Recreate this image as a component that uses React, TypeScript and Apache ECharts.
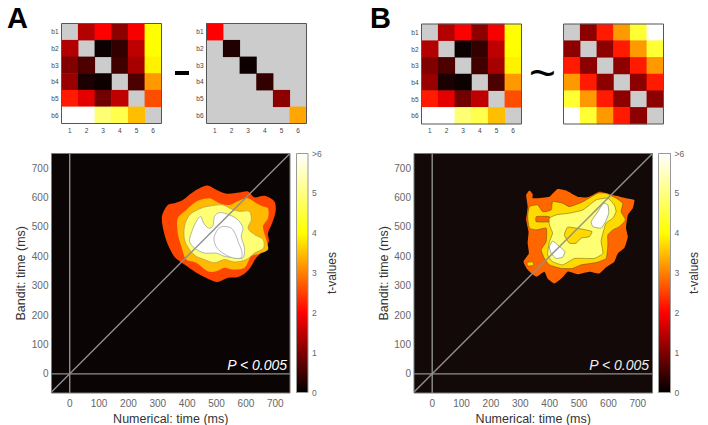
import React, { useEffect, useRef } from "react";
import * as echarts from "echarts";

const bandLabels = ["b1", "b2", "b3", "b4", "b5", "b6"];
const modelLabels = ["1", "2", "3", "4", "5", "6"];
const timeTicks = [0, 100, 200, 300, 400, 500, 600, 700];
const barTicks = [0, 1, 2, 3, 4, 5, 6];

// t-values per cell; null is a grey (excluded) cell
const neuralRdm = [
  [null, 1.4, 2.0, 1.1, 1.95, 4.0],
  [1.4, null, 0.1, 0.4, 1.5, 4.0],
  [1.0, 0.6, null, 0.5, 1.3, 3.9],
  [1.2, 0.2, 0.1, null, 0.6, 3.2],
  [2.2, 1.8, 0.9, 1.5, null, 2.6],
  [6, 6, 4.9, 4.6, 3.5, null],
];
const diagonalModel = [
  [2.0, null, null, null, null, null],
  [null, 0.25, null, null, null, null],
  [null, null, 0.1, null, null, null],
  [null, null, null, 0.4, null, null],
  [null, null, null, null, 1.1, null],
  [null, null, null, null, null, 3.3],
];
const distanceModel = [
  [null, 1.1, 2.2, 3.2, 4.4, 6],
  [1.1, null, 1.1, 2.2, 3.2, 4.4],
  [2.2, 1.1, null, 1.1, 2.2, 3.2],
  [3.2, 2.2, 1.1, null, 1.1, 2.2],
  [4.4, 3.2, 2.2, 1.1, null, 1.1],
  [6, 4.4, 3.2, 2.2, 1.1, null],
];

// contour outlines: [numerical ms, bandit ms]
const aLevel25 = [[470,641],[504,624],[535,613],[578,617],[607,621],[629,601],[663,606],[697,587],[701,553],[689,513],[675,479],[678,451],[663,423],[635,395],[618,366],[599,344],[573,330],[539,327],[504,313],[470,324],[431,344],[391,372],[357,398],[334,440],[320,485],[314,536],[334,575],[357,581],[385,592],[414,615],[442,632]];
const aLevel34 = [[476,598],[510,581],[544,575],[578,590],[607,598],[635,581],[658,570],[675,564],[675,530],[658,502],[669,457],[675,423],[646,409],[618,400],[595,361],[555,355],[527,361],[499,349],[470,349],[431,378],[397,389],[380,434],[368,479],[368,530],[397,558],[431,587]];
const aLevel49 = [[482,572],[521,575],[550,561],[578,553],[612,553],[618,524],[607,496],[629,474],[658,457],[660,428],[629,411],[601,389],[561,381],[527,389],[493,378],[459,389],[431,400],[408,423],[391,457],[391,502],[408,541],[448,564]];
const aLevel6 = [[510,549],[544,541],[573,524],[590,496],[584,468],[595,428],[590,395],[561,395],[527,400],[499,411],[459,411],[425,428],[408,451],[414,479],[431,519],[446,536],[456,513],[473,496],[487,502],[493,536]];
const aLevel7 = [[521,502],[550,496],[565,474],[573,451],[586,417],[584,395],[555,395],[521,411],[499,432],[491,462],[504,491]];

const bLevel25 = [[331,624],[342,612],[342,598],[399,603],[427,629],[456,624],[495,603],[530,601],[569,620],[615,609],[660,598],[688,592],[683,564],[666,541],[660,496],[666,467],[654,428],[632,410],[620,382],[592,363],[569,342],[535,348],[495,339],[461,348],[444,329],[416,308],[393,325],[382,348],[354,331],[325,354],[311,382],[329,410],[325,445],[328,484],[320,524],[325,569],[320,609]];
const bLevel36 = [[410,586],[444,581],[467,569],[513,586],[564,615],[592,615],[626,598],[649,581],[643,552],[658,524],[637,501],[615,490],[598,473],[598,439],[592,393],[558,379],[507,371],[478,359],[439,359],[399,371],[382,393],[371,422],[388,450],[388,496],[354,490],[331,496],[325,535],[331,569],[359,575],[376,552],[405,558]];
const bHole25 = [[354,535],[399,535],[401,518],[354,518]];
const bIsland36 = [[323,379],[342,381],[346,370],[325,367]];
const bLevel49 = [[422,541],[467,547],[513,558],[558,592],[598,598],[620,575],[626,552],[615,530],[592,513],[581,479],[575,450],[581,410],[552,393],[518,393],[484,393],[444,371],[410,382],[393,405],[399,450],[410,479],[399,507],[399,530]];
const bInner36 = [[461,499],[490,496],[524,490],[544,484],[535,467],[507,462],[490,445],[467,445],[450,473]];
const bPeak1 = [[583,581],[598,575],[601,547],[590,518],[575,496],[547,501],[541,518],[564,552]];
const bPeak2 = [[410,452],[427,439],[452,416],[444,397],[422,393],[405,410],[399,433]];

const X_MIN = -62, X_MAX = 750, Y_MIN = -65, Y_MAX = 750;
const crossV = [[0, Y_MIN], [0, Y_MAX]];
const crossH = [[X_MIN, 0], [X_MAX, 0]];
const crossD = [[X_MIN, X_MIN], [X_MAX, X_MAX]];

const FONT = "Liberation Sans";
const TICK = "#666";
const EDGE = "#7a7a7a";
const HOT_STOPS = ["#000000", "#ff0000", "#ffff00", "#ffffff"];

function hot(t: number): string {
  const v = Math.max(0, Math.min(6, t)) / 6;
  const r = Math.min(1, v * 3);
  const g = Math.max(0, Math.min(1, v * 3 - 1));
  const b = Math.max(0, Math.min(1, v * 3 - 2));
  return `rgb(${Math.round(r * 255)},${Math.round(g * 255)},${Math.round(b * 255)})`;
}

const matrixGrids = [
  { left: 61.5, top: 23.5 },
  { left: 206.5, top: 23.5 },
  { left: 421.5, top: 24 },
  { left: 563.5, top: 24 },
];
const matrices = [neuralRdm, diagonalModel, neuralRdm, distanceModel];

function matrixSeries(m: (number | null)[][], idx: number) {
  const data: number[][] = [];
  m.forEach((row, r) =>
    row.forEach((v, c) => {
      if (v !== null) data.push([c, r, v]);
    })
  );
  return {
    type: "heatmap", xAxisIndex: idx, yAxisIndex: idx, data, silent: true,
    itemStyle: { borderWidth: 0 },
  };
}

function contour(points: number[][], level: number, xi: number, stroke: string, lw: number, z: number, smooth = 0.3) {
  return {
    type: "custom", xAxisIndex: xi, yAxisIndex: xi, silent: true, z,
    data: points, encode: { x: 0, y: 1 }, clip: true,
    renderItem: (params: any, api: any) => {
      if (params.dataIndex !== 0) return { type: "group", children: [] };
      return {
        type: "polygon",
        shape: { points: points.map((p) => api.coord(p)), smooth },
        style: { fill: hot(level), stroke, lineWidth: lw },
      };
    },
  };
}

function guide(data: number[][], xi: number) {
  return {
    type: "line", xAxisIndex: xi, yAxisIndex: xi, data, symbol: "none", silent: true, z: 20,
    lineStyle: { color: "#8f8f8f", width: 1.4 },
  };
}

function colorbarSeries(xi: number) {
  return {
    type: "bar", xAxisIndex: xi, yAxisIndex: xi, data: [6], barWidth: "100%", silent: true,
    itemStyle: {
      color: {
        type: "linear", x: 0, y: 1, x2: 0, y2: 0,
        colorStops: HOT_STOPS.map((color, i) => ({ offset: i / 3, color })),
      },
    },
  };
}

const bigGrids = [
  { left: 51.5, top: 153.5, width: 238.5, height: 239.5, backgroundColor: "#0a0404" },
  { left: 414, top: 153.5, width: 238.5, height: 239.5, backgroundColor: "#120908" },
];
const barGrids = [
  { left: 296.5, top: 153.5, width: 11.5, height: 239 },
  { left: 658.5, top: 153.5, width: 12, height: 239 },
];

function frame(x: number, y: number, w: number, h: number, color: string, lw = 1) {
  return { type: "rect", silent: true, z: 50, shape: { x, y, width: w, height: h }, style: { fill: "none", stroke: color, lineWidth: lw } };
}

export default function App() {
  const ref = useRef<HTMLDivElement>(null);
  useEffect(() => {
    document.body.style.margin = "0";
    const chart = echarts.init(ref.current!, null, { renderer: "svg" });
    const grid: any[] = [];
    const xAxis: any[] = [];
    const yAxis: any[] = [];

    matrixGrids.forEach((g, i) => {
      grid.push({ left: g.left, top: g.top, width: 100, height: 100, show: true, backgroundColor: "#cccccc", borderWidth: 0, outerBoundsMode: "none" });
      const labelled = i !== 3;
      xAxis.push({
        type: "category", gridIndex: i, data: modelLabels,
        axisLine: { show: false }, axisTick: { show: false }, splitLine: { show: false },
        axisLabel: { show: labelled, fontSize: 6.5, color: "#444", margin: 3, fontFamily: FONT },
      });
      yAxis.push({
        type: "category", gridIndex: i, data: bandLabels, inverse: true,
        axisLine: { show: false }, axisTick: { show: false }, splitLine: { show: false },
        axisLabel: { show: labelled, fontSize: 6.5, color: "#444", margin: 3, fontFamily: FONT },
      });
    });

    const addBig = (g: any, gi: number) => {
      grid.push({ ...g, show: true, borderWidth: 0, outerBoundsMode: "none" });
      xAxis.push({
        type: "value", gridIndex: gi, min: X_MIN, max: X_MAX,
        name: "Numerical: time (ms)", nameLocation: "middle", nameGap: 16,
        nameTextStyle: { fontSize: 12.5, color: "#333", fontFamily: FONT },
        axisLine: { show: false }, axisTick: { show: false }, splitLine: { show: false },
        axisLabel: { fontSize: 10, color: TICK, margin: 5, fontFamily: FONT, customValues: timeTicks, hideOverlap: false },
      });
      yAxis.push({
        type: "value", gridIndex: gi, min: Y_MIN, max: Y_MAX,
        name: "Bandit: time (ms)", nameLocation: "middle", nameGap: 20.5,
        nameTextStyle: { fontSize: 12.5, color: "#333", fontFamily: FONT },
        axisLine: { show: false }, axisTick: { show: false }, splitLine: { show: false },
        axisLabel: { fontSize: 10, color: TICK, margin: 3, fontFamily: FONT, customValues: timeTicks, hideOverlap: false },
      });
    };
    const addBar = (g: any, gi: number) => {
      grid.push({ ...g, outerBoundsMode: "none" });
      xAxis.push({ type: "category", gridIndex: gi, data: ["t"], show: false });
      yAxis.push({
        type: "value", gridIndex: gi, min: barTicks[0], max: barTicks[barTicks.length - 1], interval: 1, position: "right",
        name: "t-values", nameLocation: "middle", nameGap: 17, nameRotate: 90,
        nameTextStyle: { fontSize: 12, color: "#333", fontFamily: FONT },
        axisLine: { show: false }, splitLine: { show: false },
        axisTick: { show: true, inside: true, length: 2, lineStyle: { color: "#999" } },
        axisLabel: { fontSize: 8.5, color: TICK, margin: 4, fontFamily: FONT, formatter: (v: number) => (v === 6 ? ">6" : String(v)) },
      });
    };
    addBig(bigGrids[0], 4);
    addBar(barGrids[0], 5);
    addBig(bigGrids[1], 6);
    addBar(barGrids[1], 7);

    const series: any[] = [
      ...matrices.map((m, i) => matrixSeries(m, i)),
      contour(aLevel25, 2.55, 4, "none", 0, 5),
      contour(aLevel34, 3.45, 4, "none", 0, 6),
      contour(aLevel49, 4.9, 4, "#a09a60", 0.6, 7),
      contour(aLevel6, 6, 4, "#999999", 0.7, 8),
      contour(aLevel7, 6, 4, "#999999", 0.7, 9),
      guide(crossV, 4), guide(crossH, 4), guide(crossD, 4),
      colorbarSeries(5),
      contour(bLevel25, 2.8, 6, "none", 0, 5, 0.15),
      contour(bLevel36, 3.7, 6, "#5a4a10", 0.5, 6, 0.15),
      contour(bHole25, 2.8, 6, "#5a4a10", 0.5, 7, 0.15),
      contour(bIsland36, 3.7, 6, "#5a4a10", 0.5, 7, 0.15),
      contour(bLevel49, 4.9, 6, "#5a5a20", 0.5, 8, 0.15),
      contour(bInner36, 3.7, 6, "#5a4a10", 0.5, 9, 0.15),
      contour(bPeak1, 6, 6, "#555555", 0.5, 9, 0.15),
      contour(bPeak2, 6, 6, "#555555", 0.5, 9, 0.15),
      guide(crossV, 6), guide(crossH, 6), guide(crossD, 6),
      colorbarSeries(7),
    ];

    const graphic: any[] = [
      { type: "text", x: 7, y: 3, z: 60, silent: true, style: { text: "A", font: `bold 29px "${FONT}"`, fill: "#000" } },
      { type: "text", x: 370, y: 3, z: 60, silent: true, style: { text: "B", font: `bold 29px "${FONT}"`, fill: "#000" } },
      { type: "rect", z: 60, silent: true, shape: { x: 175, y: 71, width: 14, height: 4 }, style: { fill: "#000" } },
      { type: "text", x: 529, y: 50, z: 60, silent: true, style: { text: "~", font: `46px "${FONT}"`, fill: "#000" } },
      { type: "text", x: 287, y: 358, z: 60, silent: true, style: { text: "P < 0.005", font: `italic 14px "${FONT}"`, fill: "#fff", textAlign: "right" } },
      { type: "text", x: 649, y: 358, z: 60, silent: true, style: { text: "P < 0.005", font: `italic 14px "${FONT}"`, fill: "#eee", textAlign: "right" } },
      ...matrixGrids.map((g) => frame(g.left, g.top, 100, 100, "#555")),
      ...bigGrids.map((g) => frame(g.left, g.top, g.width, g.height, EDGE)),
      ...barGrids.map((g) => frame(g.left, g.top, g.width, g.height, "#999")),
    ];

    chart.setOption({
      animation: false, backgroundColor: "#fff", grid, xAxis, yAxis, series, graphic,
      visualMap: { show: false, type: "continuous", min: 0, max: 6, seriesIndex: [0, 1, 2, 3], dimension: 2, calculable: false, inRange: { color: HOT_STOPS } },
    });
    return () => chart.dispose();
  }, []);
  return <div ref={ref} style={{ position: "fixed", left: 0, top: 0, width: 708, height: 425 }} />;
}
